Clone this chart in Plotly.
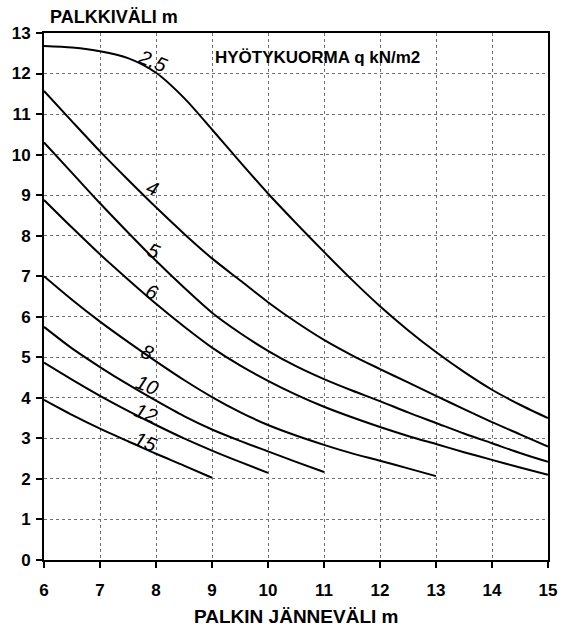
import plotly.graph_objects as go

# ---- data ----
loads = ["2,5", "4", "5", "6", "8", "10", "12", "15"]

x_25 = [6, 6.5, 7, 7.5, 8, 8.5, 9, 9.5, 10, 10.5, 11, 11.5, 12, 12.5, 13, 13.5, 14, 14.5, 15]
y_25 = [12.68, 12.64, 12.55, 12.38, 12.02, 11.4, 10.62, 9.82, 9.04, 8.31, 7.6, 6.91, 6.26, 5.67, 5.13, 4.64, 4.2, 3.83, 3.5]

x_4 = [6, 6.5, 7, 7.5, 8, 8.5, 9, 9.5, 10, 10.5, 11, 11.5, 12, 12.5, 13, 13.5, 14, 14.5, 15]
y_4 = [11.57, 10.82, 10.08, 9.38, 8.7, 8.05, 7.44, 6.9, 6.36, 5.87, 5.43, 5.05, 4.71, 4.38, 4.05, 3.72, 3.4, 3.1, 2.8]

x_5 = [6, 6.5, 7, 7.5, 8, 8.5, 9, 9.5, 10, 10.5, 11, 11.5, 12, 12.5, 13, 13.5, 14, 14.5, 15]
y_5 = [10.3, 9.55, 8.8, 8.08, 7.38, 6.72, 6.1, 5.6, 5.16, 4.78, 4.46, 4.18, 3.92, 3.64, 3.38, 3.12, 2.88, 2.64, 2.42]

x_6 = [6, 6.5, 7, 7.5, 8, 8.5, 9, 9.5, 10, 10.5, 11, 11.5, 12, 12.5, 13, 13.5, 14, 14.5, 15]
y_6 = [8.88, 8.2, 7.54, 6.92, 6.32, 5.76, 5.24, 4.8, 4.42, 4.08, 3.78, 3.52, 3.28, 3.06, 2.86, 2.66, 2.47, 2.28, 2.1]

x_8 = [6, 6.5, 7, 7.5, 8, 8.5, 9, 9.5, 10, 10.5, 11, 11.5, 12, 12.5, 13]
y_8 = [7.0, 6.42, 5.88, 5.38, 4.9, 4.44, 4.02, 3.65, 3.33, 3.07, 2.84, 2.63, 2.45, 2.26, 2.07]

x_10 = [6, 6.5, 7, 7.5, 8, 8.5, 9, 9.5, 10, 10.5, 11]
y_10 = [5.75, 5.22, 4.76, 4.33, 3.93, 3.55, 3.22, 2.94, 2.68, 2.42, 2.17]

x_12 = [6, 6.5, 7, 7.5, 8, 8.5, 9, 9.5, 10]
y_12 = [4.87, 4.45, 4.05, 3.68, 3.33, 3.0, 2.7, 2.42, 2.15]

x_15 = [6, 6.5, 7, 7.5, 8, 8.5, 9]
y_15 = [3.95, 3.58, 3.24, 2.93, 2.62, 2.33, 2.03]

# curve label positions (x, y) on the chart
label_x = [7.95, 7.93, 7.96, 7.93, 7.84, 7.84, 7.82, 7.82]
label_y = [12.3, 9.18, 7.62, 6.6, 5.14, 4.32, 3.63, 2.9]

x_ticks = [6, 7, 8, 9, 10, 11, 12, 13, 14, 15]
y_ticks = list(range(0, 14))

series = [(x_25, y_25), (x_4, y_4), (x_5, y_5), (x_6, y_6),
          (x_8, y_8), (x_10, y_10), (x_12, y_12), (x_15, y_15)]

FONT = "Liberation Sans, Arial, sans-serif"

fig = go.Figure()
for (xs, ys), name in zip(series, loads):
    fig.add_trace(go.Scatter(
        x=xs, y=ys, mode="lines", name=name,
        line=dict(color="black", width=2, shape="spline", smoothing=0.8),
        showlegend=False, hoverinfo="skip"))

for lx, ly, txt in zip(label_x, label_y, loads):
    fig.add_annotation(x=lx, y=ly, text=txt, showarrow=False,
                       textangle=22,
                       font=dict(family=FONT, size=20, color="black", style="italic"))

fig.add_annotation(x=9.02, y=12.4, xanchor="left", yanchor="middle",
                   text="HYÖTYKUORMA q kN/m2", showarrow=False,
                   font=dict(family=FONT, size=17, color="black", weight="bold"))

fig.add_annotation(xref="paper", yref="paper", x=0.008, y=1.0304,
                   xanchor="left", yanchor="middle", text="PALKKIVÄLI m",
                   showarrow=False,
                   font=dict(family=FONT, size=18, color="black", weight="bold"))

fig.add_annotation(xref="paper", yref="paper", x=0.5, y=-0.108,
                   xanchor="center", yanchor="middle", text="PALKIN JÄNNEVÄLI m",
                   showarrow=False,
                   font=dict(family=FONT, size=19, color="black", weight="bold"))

axis_common = dict(
    showline=True, linecolor="black", linewidth=2, mirror=True,
    ticks="outside", ticklen=6, tickwidth=2, tickcolor="black",
    showgrid=True, gridcolor="#707070", gridwidth=1, griddash="dot",
    zeroline=False,
    tickfont=dict(family=FONT, size=17, color="black", weight="bold"),
)

fig.update_xaxes(range=[6, 15], tickvals=x_ticks, ticklabelstandoff=8, **axis_common)
fig.update_yaxes(range=[0, 13], tickvals=y_ticks, ticklabelstandoff=2, **axis_common)

fig.update_layout(
    width=569, height=632,
    margin=dict(l=43, r=12, t=33, b=72),
    paper_bgcolor="white", plot_bgcolor="white",
)

fig.write_html("out.html")
